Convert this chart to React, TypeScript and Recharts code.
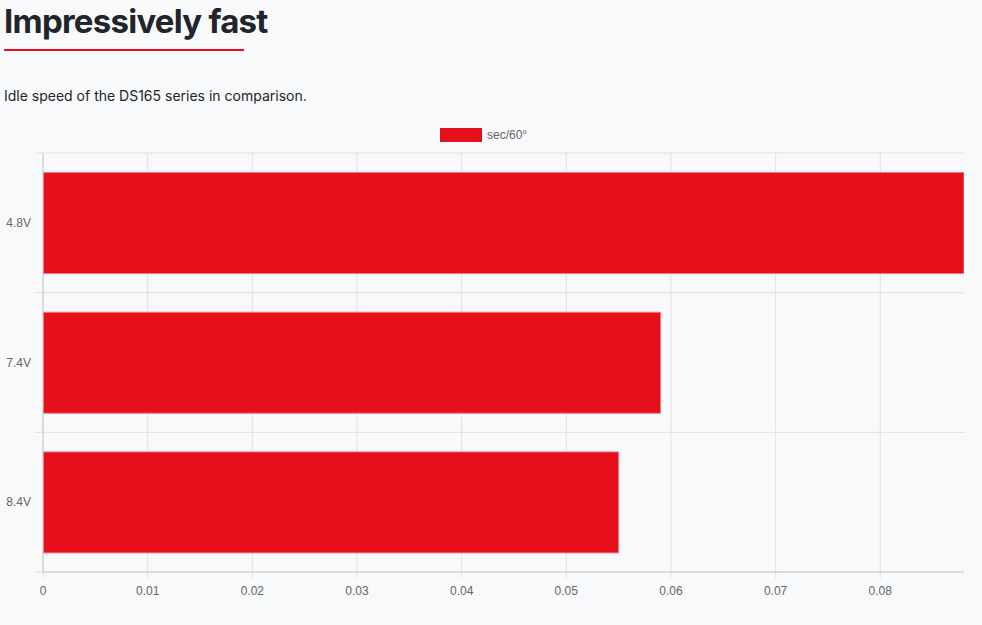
import { Bar, BarChart, CartesianGrid, XAxis, YAxis } from "recharts";

const voltages = ["4.8V", "7.4V", "8.4V"];
const secPer60 = [0.088, 0.059, 0.055];
const xTicks = [0, 0.01, 0.02, 0.03, 0.04, 0.05, 0.06, 0.07, 0.08];

const chartData = voltages.map((v, i) => ({ voltage: v, value: secPer60[i] }));

const GRID = "#dfe1e3";
const AXIS = "#c8cacc";
const RED = "#e6101d";
const tickFont = { fontSize: 12, fill: "#666", fontFamily: "'Liberation Sans', Arial, sans-serif" };

// grid lines run a bit past the plot, like tick marks
const hLine = (p: any) => (
  <line key={p.key} x1={p.x1 - 8} y1={p.y1} x2={p.x2} y2={p.y2} stroke={GRID} strokeWidth={1} />
);
const vLine = (p: any) => {
  const right = Number(p.x) + Number(p.width);
  // no line at the right edge, only at the ticks
  if (Number.isFinite(right) && p.x1 > right - 1) return <g key={p.key} />;
  return <line key={p.key} x1={p.x1} y1={p.y1} x2={p.x2} y2={p.y2 + 6} stroke={GRID} strokeWidth={1} />;
};

export default function App() {
  return (
    <div
      style={{
        position: "relative",
        width: 982,
        height: 625,
        background: "#f8f9fa",
        fontFamily: "Inter, 'Noto Sans', sans-serif",
        color: "#212529",
      }}
    >
      <style>{`body{margin:0;background:#f8f9fa}`}</style>
      <div
        style={{
          position: "absolute",
          left: 4,
          top: -1,
          fontSize: 33,
          fontWeight: 700,
          letterSpacing: -0.75,
          lineHeight: "44px",
        }}
      >
        Impressively fast
      </div>
      <div style={{ position: "absolute", left: 4, top: 49, width: 240, height: 2, background: RED }} />
      <div style={{ position: "absolute", left: 4, top: 86, fontSize: 14, lineHeight: "20px" }}>
        Idle speed of the DS165 series in comparison.
      </div>
      <div
        style={{
          position: "absolute",
          left: 440,
          top: 128,
          display: "flex",
          alignItems: "center",
          fontSize: 12,
          color: "#666",
          fontFamily: "'Liberation Sans', Arial, sans-serif",
        }}
      >
        <span style={{ display: "inline-block", width: 42, height: 14, background: RED, marginRight: 5 }} />
        sec/60°
      </div>
      <div style={{ position: "absolute", left: 0, top: 143 }}>
        <BarChart
          width={982}
          height={459}
          data={chartData}
          layout="vertical"
          margin={{ top: 10, right: 18, bottom: 0, left: 0 }}
          barCategoryGap="14%"
        >
          <CartesianGrid
            stroke={GRID}
            horizontal={hLine}
            vertical={vLine}
            horizontalCoordinatesGenerator={({ offset }: any) =>
              voltages.map((_, i) => offset.top + (i * offset.height) / voltages.length).concat(offset.top + offset.height)
            }
          />
          <XAxis
            type="number"
            domain={[0, 0.088]}
            ticks={xTicks}
            allowDataOverflow
            height={30}
            tick={tickFont}
            tickLine={false}
            tickSize={6}
            tickMargin={8}
            axisLine={{ stroke: AXIS }}
          />
          <YAxis
            type="category"
            dataKey="voltage"
            width={43}
            tick={tickFont}
            tickLine={false}
            tickSize={6}
            tickMargin={6}
            axisLine={{ stroke: AXIS }}
          />
          <Bar
            dataKey="value"
            fill={RED}
            stroke="#f07882"
            strokeWidth={1}
            isAnimationActive={false}
          />
        </BarChart>
      </div>
    </div>
  );
}
